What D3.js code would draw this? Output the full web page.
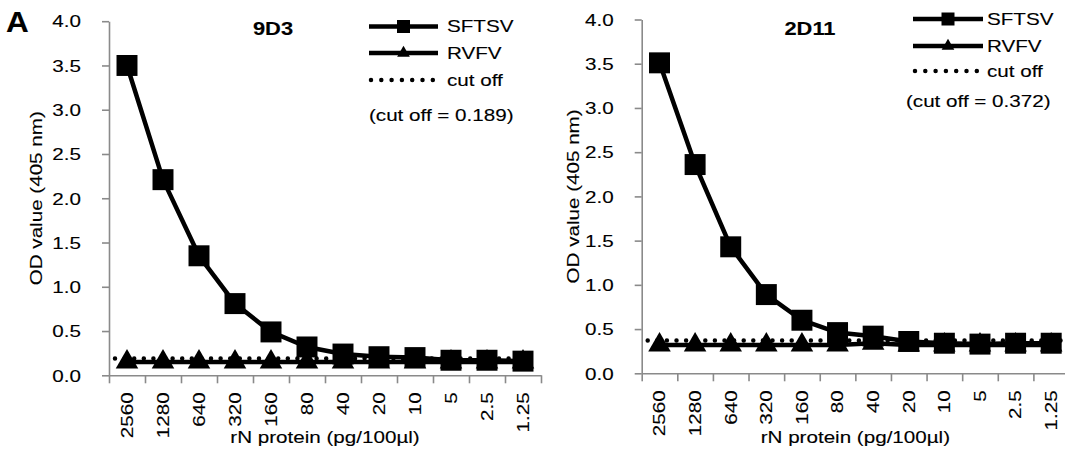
<!DOCTYPE html>
<html><head><meta charset="utf-8">
<script src="https://cdn.jsdelivr.net/npm/d3@7"></script>
<style>
body{margin:0;background:#fff}
svg text{font-family:"Liberation Sans",Arial,Helvetica,sans-serif;fill:#000;stroke:#000;stroke-width:0.12px}
</style></head>
<body><svg id="c" width="1065" height="455"></svg>
<script>
// ---- data ----
const categories = ["2560","1280","640","320","160","80","40","20","10","5","2.5","1.25"];
const sftsv9D3  = [3.50, 2.21, 1.35, 0.81, 0.49, 0.32, 0.24, 0.21, 0.20, 0.17, 0.17, 0.16];
const rvfv9D3   = [0.15, 0.15, 0.15, 0.15, 0.15, 0.15, 0.15, 0.15, 0.15, 0.15, 0.15, 0.15];
const cutoff9D3 = 0.189;
const sftsv2D11 = [3.51, 2.36, 1.43, 0.89, 0.60, 0.46, 0.42, 0.36, 0.34, 0.33, 0.34, 0.34];
const rvfv2D11  = [0.32, 0.32, 0.32, 0.32, 0.32, 0.32, 0.34, 0.32, 0.32, 0.32, 0.32, 0.32];
const cutoff2D11 = 0.372;
const yTicks = [0, 0.5, 1.0, 1.5, 2.0, 2.5, 3.0, 3.5, 4.0];
const seriesNames = ["SFTSV", "RVFV", "cut off"];
const panelTitles = ["9D3", "2D11"];
const yLabel = "OD value (405 nm)";
const xLabel = "rN protein (pg/100µl)";

// ---- layout ----
const svg = d3.select("#c");
const AX = "#8a8a8a";
const SX = 1.25;   // horizontal stretch of the glyphs
const FS = 16.5;

function txt(g, s, x, y, o = {}) {
  return g.append("text")
    .attr("transform", `translate(${x},${y}) rotate(${o.rot || 0}) scale(${o.sx || SX},1)`)
    .attr("text-anchor", o.anchor || "start")
    .attr("font-size", o.size || FS)
    .attr("font-weight", o.weight || "normal")
    .attr("dy", o.dy || 0)
    .text(s);
}

const panels = [
  {title: panelTitles[0], s: sftsv9D3, r: rvfv9D3, cut: cutoff9D3,
   x0: 109, x1: 541, yTop: 21.2, yBot: 375.3, titleX: 273, titleY: 35, yLabX: 36,
   leg: {lx0: 369, lx1: 438, ys: [26.5, 53, 80], tx: 447, noteX: 369, noteY: 121}},
  {title: panelTitles[1], s: sftsv2D11, r: rvfv2D11, cut: cutoff2D11,
   x0: 641.7, x1: 1069, yTop: 19.5, yBot: 373.3, titleX: 810, titleY: 35, yLabX: 573,
   leg: {lx0: 913, lx1: 983, ys: [19, 46, 71], tx: 987, noteX: 906, noteY: 107}}
];

panels.forEach(p => {
  const g = svg.append("g");
  const y = d3.scaleLinear().domain([0, 4]).range([p.yBot, p.yTop]);
  const xb = d3.scaleBand().domain(categories).range([p.x0, p.x1]);
  const xl = d3.scaleLinear().domain([0, categories.length]).range([p.x0, p.x1]);
  const cx = c => xb(c) + xb.bandwidth() / 2;

  // y axis
  const ya = g.append("g").attr("transform", `translate(${p.x0},0)`)
    .call(d3.axisLeft(y).tickValues(yTicks).tickSize(7).tickSizeOuter(0).tickFormat(d3.format(".1f")));
  ya.select(".domain").attr("stroke", AX).attr("stroke-width", 1.6);
  ya.selectAll(".tick line").attr("stroke", AX).attr("stroke-width", 1.6);
  ya.selectAll(".tick text").attr("x", null).attr("dy", "0.35em")
    .attr("font-size", FS).attr("font-family", null)
    .attr("transform", `translate(-28,0) scale(${SX},1)`);

  // x axis: boundary ticks
  const xa = g.append("g").attr("transform", `translate(0,${p.yBot})`)
    .call(d3.axisBottom(xl).tickValues(d3.range(categories.length + 1)).tickSize(8).tickSizeOuter(0).tickFormat(""));
  xa.select(".domain").attr("stroke", AX).attr("stroke-width", 1.6);
  xa.selectAll(".tick line").attr("stroke", AX).attr("stroke-width", 1.6);
  // x axis: category labels
  const xc = g.append("g").attr("transform", `translate(0,${p.yBot})`)
    .call(d3.axisBottom(xb).tickSize(0));
  xc.select(".domain").remove();
  xc.selectAll(".tick text").attr("y", null).attr("dy", "0.35em")
    .attr("font-size", FS).attr("font-family", null).attr("text-anchor", "end")
    .attr("transform", `translate(0,17) rotate(-90) scale(${SX},1)`);

  // cut off
  g.append("line")
    .attr("x1", p.x0 + 6).attr("x2", p.x1 - 6)
    .attr("y1", y(p.cut)).attr("y2", y(p.cut))
    .attr("stroke", "#000").attr("stroke-width", 4.5)
    .attr("stroke-linecap", "round").attr("stroke-dasharray", "0,9.6");

  const line = d3.line().x((d, i) => cx(categories[i])).y(d => y(d));
  // RVFV
  g.append("path").attr("d", line(p.r)).attr("fill", "none").attr("stroke", "#000").attr("stroke-width", 4.5);
  g.selectAll(".tri").data(p.r).join("path")
    .attr("transform", (d, i) => `translate(${cx(categories[i])},${y(d)})`)
    .attr("d", d3.symbol(d3.symbolTriangle, 220)());
  // SFTSV
  g.append("path").attr("d", line(p.s)).attr("fill", "none").attr("stroke", "#000").attr("stroke-width", 4.5)
    .attr("stroke-linejoin", "round");
  g.selectAll(".sq").data(p.s).join("path")
    .attr("transform", (d, i) => `translate(${cx(categories[i])},${y(d)})`)
    .attr("d", d3.symbol(d3.symbolSquare, 440)());

  // titles and labels
  txt(g, p.title, p.titleX, p.titleY, {anchor: "middle", weight: "bold", size: 17.5});
  txt(g, yLabel, p.yLabX, (p.yTop + p.yBot) / 2, {anchor: "middle", rot: -90, dy: "0.35em"});
  txt(g, xLabel, (p.x0 + p.x1) / 2, 443, {anchor: "middle"});

  // legend
  const L = p.leg, lm = (L.lx0 + L.lx1) / 2;
  [0, 1].forEach(k => {
    g.append("line").attr("x1", L.lx0).attr("x2", L.lx1).attr("y1", L.ys[k]).attr("y2", L.ys[k])
      .attr("stroke", "#000").attr("stroke-width", 4.5);
    g.append("path").attr("transform", `translate(${lm},${L.ys[k]})`)
      .attr("d", d3.symbol(k === 0 ? d3.symbolSquare : d3.symbolTriangle, k === 0 ? 169 : 70)());
  });
  g.append("line").attr("x1", L.lx0 + 2).attr("x2", L.lx1).attr("y1", L.ys[2]).attr("y2", L.ys[2])
    .attr("stroke", "#000").attr("stroke-width", 4.5)
    .attr("stroke-linecap", "round").attr("stroke-dasharray", "0,10.3");
  seriesNames.forEach((n, k) => txt(g, n, L.tx, L.ys[k], {dy: "0.35em"}));
  txt(g, `(cut off = ${p.cut})`, L.noteX, L.noteY);
});

txt(svg, "A", 6, 32, {size: 30, sx: 1.05, weight: "bold"});
</script></body></html>
